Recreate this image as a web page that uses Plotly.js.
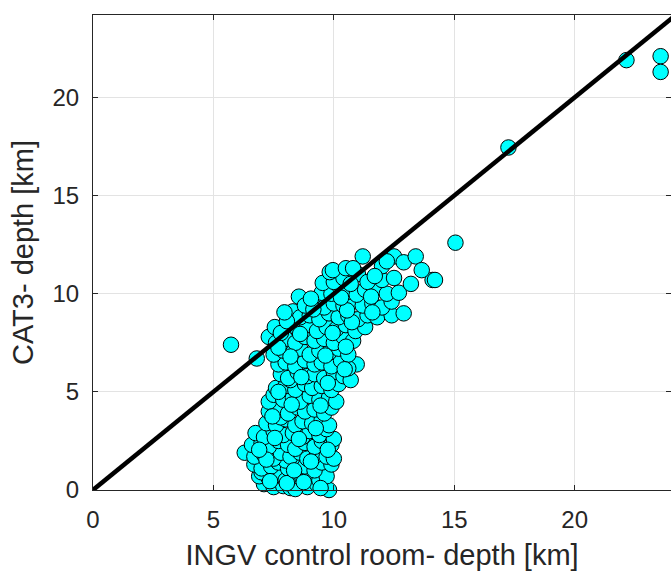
<!DOCTYPE html>
<html>
<head>
<meta charset="utf-8">
<script src="https://cdn.plot.ly/plotly-3.0.1.min.js"></script>
<style>html,body{margin:0;padding:0;background:#fff;}#chart{width:671px;height:574px;}</style>
</head>
<body>
<div id="chart"></div>
<script>
// INGV control room depth (km)
const ingvDepth = [
  7.1,7.5,7.9,8.2,8.6,8.9,9.3,9.6,9.8,8.4,
  6.9,7.3,7.6,8.0,8.3,8.7,9.0,9.4,9.7,7.0,
  6.7,7.0,7.4,7.7,8.1,8.5,8.8,9.2,9.5,9.9,8.0,
  6.3,6.7,7.1,7.5,7.8,8.2,8.6,8.9,9.3,9.7,10.0,
  6.6,7.0,7.3,7.7,8.1,8.4,8.8,9.2,9.5,9.9,
  6.75,7.1,7.5,7.9,8.3,8.7,9.0,9.4,10.0,9.7,
  7.2,7.6,8.0,8.4,8.7,9.1,9.5,9.8,7.8,
  7.3,7.7,8.1,8.5,8.8,9.2,9.6,9.9,
  7.3,7.5,7.9,8.3,8.6,9.0,9.4,9.8,10.1,
  7.6,8.0,8.4,8.8,9.1,9.5,9.9,10.2,8.2,
  7.8,8.1,8.5,8.9,9.2,9.6,10.0,10.4,10.7,
  7.7,8.0,8.4,8.8,9.2,9.5,9.9,10.3,10.95,10.6,
  7.5,7.9,8.3,8.6,9.0,9.4,9.8,10.2,10.6,6.8,
  7.3,7.6,8.0,8.4,8.8,9.2,9.6,10.0,10.4,10.8,
  7.55,7.8,8.2,8.5,8.9,9.3,9.7,10.1,10.5,10.9,11.3,
  8.3,8.6,9.0,9.4,9.8,10.2,10.6,11.0,11.4,11.8,12.4,12.9,
  8.55,8.8,9.2,9.6,10.0,10.4,10.8,11.2,11.6,12.0,12.4,
  9.5,9.9,10.25,10.6,10.95,11.3,11.8,12.2,12.7,
  9.54,10.0,10.4,11.0,11.4,12.0,13.2,14.1,14.2,12.5,
  9.83,9.96,10.5,11.2,12.5,12.9,13.4,13.65,12.0,
  7.35,8.05,8.75,9.45,7.2,8.35,9.05,9.75,6.9,7.55,
  8.55,9.25,7.45,8.25,9.45,7.7,8.65,9.75,10.45,8.2,
  9.65,10.5,7.7,8.6,9.95,10.75,8.05,9.15,10.55,11.6,
  9.05,10.3,11.55,10.7,11.7,12.2,7.95,10.8,
  5.73,15.05,17.25,22.15,23.57,23.57
];
// CAT3 depth (km)
const cat3Depth = [
  0.3,0.15,0.2,0.1,0.25,0.15,0.3,0.2,0.0,0.05,
  0.7,0.6,0.8,0.5,0.7,0.6,0.8,0.5,0.7,0.9,
  1.3,1.1,1.2,1.4,1.1,1.3,1.2,1.0,1.4,1.3,1.5,
  1.9,1.7,1.8,1.6,1.9,1.7,1.9,1.6,1.8,1.7,1.6,
  2.3,2.4,2.2,2.5,2.3,2.1,2.4,2.2,2.5,2.3,
  2.9,2.7,3.0,2.8,2.9,2.7,3.0,2.8,2.6,3.1,
  3.4,3.3,3.6,3.3,3.5,3.4,3.6,3.3,3.7,
  4.0,4.1,3.9,4.2,4.0,4.1,3.9,4.2,
  4.5,4.85,4.6,4.7,4.5,4.8,4.6,4.7,4.5,
  5.2,5.3,5.1,5.4,5.2,5.3,5.1,5.4,5.6,
  5.9,5.7,6.0,5.8,5.9,5.7,6.0,5.8,5.6,
  6.4,6.5,6.3,6.6,6.4,6.5,6.3,6.6,6.4,6.2,
  6.9,7.1,7.0,7.2,6.9,7.1,7.0,7.2,6.9,6.7,
  7.8,7.5,7.7,7.5,7.8,7.6,7.7,7.5,7.8,7.6,
  8.3,8.0,8.7,8.2,8.4,8.1,8.3,8.2,8.4,8.1,8.3,
  9.1,8.8,8.9,8.7,9.0,8.8,8.9,8.7,8.9,8.8,8.9,9.0,
  9.85,9.4,9.5,9.3,9.5,9.4,9.6,9.4,9.5,9.3,9.6,
  10.05,10.0,10.35,10.1,9.95,10.2,10.35,10.0,10.05,
  10.55,10.6,10.8,11.0,10.6,10.7,10.5,10.7,10.7,10.8,
  11.1,11.2,11.3,11.9,11.9,11.6,11.9,11.2,11.4,
  0.45,0.35,0.4,0.1,1.55,1.0,1.45,2.05,2.05,2.65,
  2.6,3.15,3.75,4.35,4.3,5.0,5.75,5.45,6.15,6.8,
  6.85,7.3,7.25,7.95,8.0,8.55,8.6,9.2,9.15,9.05,
  9.75,9.8,9.85,10.5,10.9,11.65,9.05,11.3,
  7.4,12.6,17.45,21.9,22.1,21.3
];
// 1:1 reference line
const refLine = [0, 25];
const xTicks = [0, 5, 10, 15, 20];
const yTicks = [0, 5, 10, 15, 20];

const axisCol = '#262626';
const data = [
  {
    x: ingvDepth, y: cat3Depth, type: 'scatter', mode: 'markers',
    marker: {size: 15.5, color: '#00ffff', line: {color: '#000000', width: 1}},
    cliponaxis: false, hoverinfo: 'x+y'
  },
  {
    x: refLine, y: refLine, type: 'scatter', mode: 'lines',
    line: {color: '#000000', width: 4.5}, hoverinfo: 'skip'
  }
];
const layout = {
  width: 671, height: 574,
  margin: {l: 93, r: 0, t: 15, b: 84},
  paper_bgcolor: '#ffffff', plot_bgcolor: '#ffffff',
  showlegend: false,
  font: {family: 'Liberation Sans, Arial, sans-serif', color: axisCol, size: 24},
  xaxis: {
    range: [0, 24], tickvals: xTicks, ticktext: xTicks.map(String),
    showgrid: true, gridcolor: '#e3e3e3', gridwidth: 1,
    showline: true, linecolor: axisCol, linewidth: 1, mirror: 'ticks',
    ticks: 'inside', ticklen: 5, tickcolor: axisCol,
    zeroline: false, ticklabelstandoff: 8,
    tickfont: {size: 24, color: axisCol},
    title: {text: 'INGV control room- depth [km]', font: {size: 29, color: axisCol}, standoff: 12}
  },
  yaxis: {
    range: [0, 24.2], tickvals: yTicks, ticktext: yTicks.map(String),
    showgrid: true, gridcolor: '#e3e3e3', gridwidth: 1,
    showline: true, linecolor: axisCol, linewidth: 1, mirror: 'ticks',
    ticks: 'inside', ticklen: 5, tickcolor: axisCol,
    zeroline: false, ticklabelstandoff: 8,
    tickfont: {size: 24, color: axisCol},
    title: {text: 'CAT3- depth [km]', font: {size: 29, color: axisCol}, standoff: 10}
  }
};
Plotly.newPlot('chart', data, layout, {displayModeBar: false, staticPlot: true});
</script>
</body>
</html>
